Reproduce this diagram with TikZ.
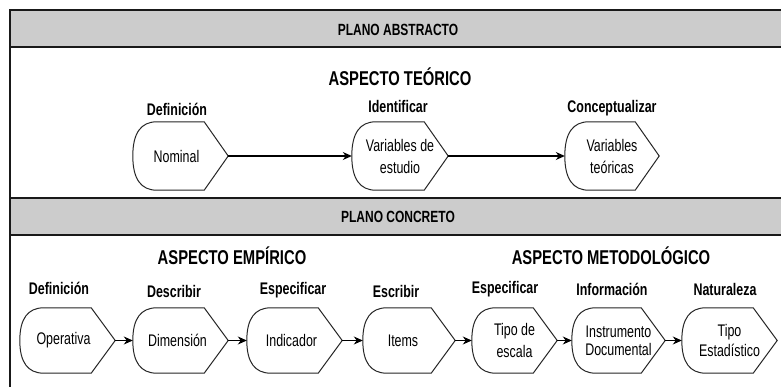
\documentclass[tikz,border=0pt]{standalone}
\usepackage{fontspec}
\setmainfont{Liberation Sans}[FakeStretch=0.74]
\usetikzlibrary{calc,arrows.meta}
\begin{document}
\begin{tikzpicture}[x=1pt,y=-1pt,
  frame/.style={draw=black!90, line width=2.4pt},
  band/.style={fill=black!20},
  hdr/.style={font=\bfseries\fontsize{16.2}{19}\selectfont, inner sep=0pt},
  asp/.style={font=\bfseries\fontsize{20}{24}\selectfont, inner sep=0pt},
  lab/.style={font=\bfseries\fontsize{16.8}{19}\selectfont, inner sep=0pt},
  disp/.style={inner sep=0pt, align=center, font=\fontsize{16.8}{22}\selectfont},
  dtop/.style={disp, minimum width=#1, minimum height=68pt},
  dbot/.style={disp, minimum width=#1, minimum height=65pt},
  outl/.style={draw=black!85, line width=1pt},
  arr/.style={-{Stealth[length=9pt,width=8pt]}, line width=1.2pt, draw=black}]
\fill[white] (0,0) rectangle (781,387);
\useasboundingbox (0,0) rectangle (781,387);
% frame
\draw[frame, band] (10,10) rectangle (800,47);
\draw[frame] (10,47) rectangle (800,198);
\draw[frame, band] (10,198) rectangle (800,235);
\draw[frame] (10,235) rectangle (800,400);
% headers
\node[hdr] (h1) at (398,30) {PLANO ABSTRACTO};
\node[hdr] (h2) at (398,217) {PLANO CONCRETO};
\node[asp] (a1) at (400,77) {ASPECTO TEÓRICO};
\node[asp] (a2) at (232,256) {ASPECTO EMPÍRICO};
\node[asp] (a3) at (611,256) {ASPECTO METODOLÓGICO};
% labels top
\node[lab] (l1) at (177,109) {Definición};
\node[lab] (l2) at (398,106) {Identificar};
\node[lab] (l3) at (612,108) {Conceptualizar};
% labels bottom
\node[lab] (m1) at (59,288) {Definición};
\node[lab] (m2) at (174,291) {Describir};
\node[lab] (m3) at (293,290) {Especificar};
\node[lab] (m4) at (396,291) {Escribir};
\node[lab] (m5) at (505,289) {Especificar};
\node[lab] (m6) at (612,289) {Información};
\node[lab] (m7) at (725,289) {Naturaleza};
% top shapes
\node[dtop=95pt] (nom) at (180.5,156) {Nominal\hspace*{8pt}};
\node[dtop=96pt] (vde) at (400,156) {Variables de\\estudio};
\node[dtop=94pt] (vte) at (612,156) {Variables\\teóricas};
% bottom shapes
\node[dbot=95pt] (ope) at (67.5,340.5) {Operativa\hspace*{8pt}};
\node[dbot=95pt] (dim) at (180.5,340.5) {Dimensión\hspace*{6pt}};
\node[dbot=95pt] (ind) at (294.5,340.5) {Indicador\hspace*{6pt}};
\node[dbot=92pt] (ite) at (409,340.5) {Items\hspace*{12pt}};
\node[dbot=85pt] (tip) at (514.5,340.5) {Tipo de\\escala};
\node[dbot=93pt, font=\fontsize{16.8}{18}\selectfont] (ins) at (618.5,340.5) {Instrumento\\Documental};
\node[dbot=95pt, font=\fontsize{16.8}{20}\selectfont] (est) at (729.5,340.5) {Tipo\\Estadístico};
% outlines
\foreach \n in {nom,vde,vte,ope,dim,ind,ite,tip,ins,est}{
  \draw[outl] ($(\n.north west)+(24,0)$) -- ($(\n.north east)+(-24,0)$) -- (\n.east)
    -- ($(\n.south east)+(-24,0)$) -- ($(\n.south west)+(24,0)$)
    .. controls ($(\n.south west)+(8,0)$) and ($(\n.west)!0.667!(\n.south west)$) .. (\n.west)
    .. controls ($(\n.west)!0.667!(\n.north west)$) and ($(\n.north west)+(8,0)$) .. cycle;
}
% arrows
\draw[arr] (nom.east) -- (vde.west);
\draw[arr] (vde.east) -- (vte.west);
\draw[arr] (ope.east) -- (dim.west);
\draw[arr] (dim.east) -- (ind.west);
\draw[arr] (ind.east) -- (ite.west);
\draw[arr] (ite.east) -- (tip.west);
\draw[arr] (tip.east) -- (ins.west);
\draw[arr] (ins.east) -- (est.west);
\end{tikzpicture}
\end{document}
